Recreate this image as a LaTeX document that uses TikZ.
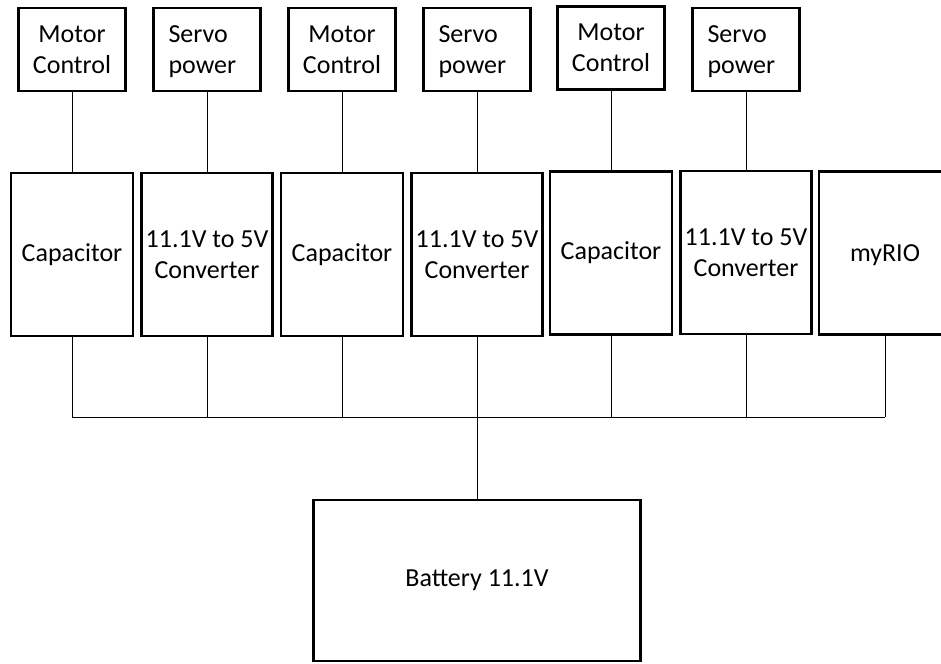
\documentclass[tikz,border=0pt]{standalone}
\usepackage{fontspec}
\setmainfont{Carlito}
\usepackage{tikz}
\usetikzlibrary{positioning}

\begin{document}
\begin{tikzpicture}[
    x=1pt, y=-1pt,
    topbox/.style={rectangle, draw, line width=2.6pt, minimum width=107pt, minimum height=83pt, inner sep=0pt, align=center, font=\fontsize{26}{31}\selectfont},
    servobox/.style={topbox, text width=77pt, align=left},
    midbox/.style={rectangle, draw, line width=2.6pt, minimum height=163pt, inner sep=0pt, align=center, font=\fontsize{26}{31}\selectfont},
    capbox/.style={midbox, minimum width=122pt},
    convbox/.style={midbox, minimum width=131pt},
    wire/.style={line width=1pt},
]
\useasboundingbox (0,0) rectangle (941,663);
\clip (0,0) rectangle (941,663);

% Row 1: loads
\node[topbox] (mc1) at (72,49.5) {Motor\\Control};
\node[servobox] (sp1) at (207,49.5) {Servo\\\smash{power}};
\node[topbox] (mc2) at (342,49.5) {Motor\\Control};
\node[servobox] (sp2) at (477,49.5) {Servo\\\smash{power}};
\node[topbox] (mc3) at (611,48) {Motor\\Control};
\node[servobox] (sp3) at (746,49.5) {Servo\\\smash{power}};

% Row 2: capacitors, converters and myRIO
\node[capbox] (cap1) at (72,254.5) {Capacitor};
\node[convbox] (conv1) at (207,254.5) {11.1V to 5V\\Converter};
\node[capbox] (cap2) at (342,254.5) {Capacitor};
\node[convbox] (conv2) at (477,254.5) {11.1V to 5V\\Converter};
\node[capbox] (cap3) at (611,253) {Capacitor};
\node[convbox] (conv3) at (746,252.5) {11.1V to 5V\\Converter};
\node[midbox, minimum width=132pt, text depth=0pt] (myrio) at (885,253) {myRIO};

\draw[wire] (mc1) -- (cap1);
\draw[wire] (sp1) -- (conv1);
\draw[wire] (mc2) -- (cap2);
\draw[wire] (sp2) -- (conv2);
\draw[wire] (mc3) -- (cap3);
\draw[wire] (sp3) -- (conv3);

% Row 3: battery and bus
\node[midbox, minimum width=327pt, minimum height=161pt] (battery) at (477,580.5) {Battery 11.1V};
\coordinate (bus) at (477,417);

\foreach \n in {cap1,conv1,cap2,conv2,cap3,conv3,myrio}
    \draw[wire] (\n.south) -- (\n.south |- bus);
\draw[wire] (cap1.south |- bus) -- (myrio.south |- bus);
\draw[wire] (bus) -- (battery);
\end{tikzpicture}
\end{document}
